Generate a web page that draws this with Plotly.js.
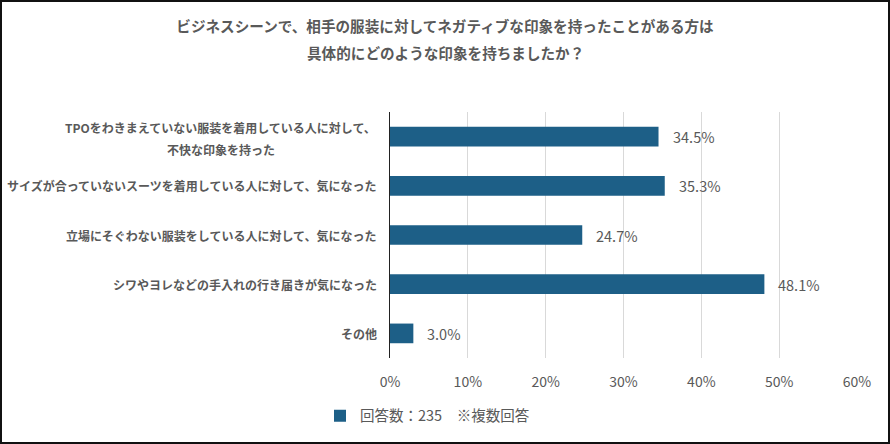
<!DOCTYPE html>
<html><head><meta charset="utf-8">
<script src="https://cdn.plot.ly/plotly-3.0.1.min.js"></script>
<style>
html,body{margin:0;padding:0;background:#fff;}
#wrap{position:relative;width:890px;height:444px;}
#chart{width:890px;height:444px;}
#frame{position:absolute;left:0;top:0;width:890px;height:444px;box-sizing:border-box;border:2px solid #111;pointer-events:none;}
</style></head>
<body><div id="wrap"><div id="chart"></div><div id="frame"></div></div>
<script>
const titleLine1 = "ビジネスシーンで、相手の服装に対してネガティブな印象を持ったことがある方は";
const titleLine2 = "具体的にどのような印象を持ちましたか？";
const categories = [
  "TPOをわきまえていない服装を着用している人に対して、<br>不快な印象を持った",
  "サイズが合っていないスーツを着用している人に対して、気になった",
  "立場にそぐわない服装をしている人に対して、気になった",
  "シワやヨレなどの手入れの行き届きが気になった",
  "その他"
];
const values = [34.5, 35.3, 24.7, 48.1, 3.0];
const seriesName = "回答数：235　※複数回答";
const tickVals = [0, 10, 20, 30, 40, 50, 60];
const tickText = ["0%", "10%", "20%", "30%", "40%", "50%", "60%"];

const FONT = '"Noto Sans CJK JP", "Noto Sans", sans-serif';
const GRAY = '#595959';
const BAR = '#1d5f87';
const LABEL_SIZE = 12;

const ctx = document.createElement('canvas').getContext('2d');
ctx.font = 'bold ' + LABEL_SIZE + 'px ' + FONT;

const trace = {
  type: 'bar', orientation: 'h',
  x: values, y: categories,
  name: seriesName,
  marker: {color: BAR},
  width: 0.4,
  hoverinfo: 'skip',
  showlegend: true
};

const annotations = [];
categories.forEach((c, i) => {
  const lines = c.split('<br>');
  const n = lines.length;
  const maxW = Math.max(...lines.map(l => ctx.measureText(l).width));
  lines.forEach((ln, k) => {
    annotations.push({
      xref: 'paper', yref: 'y', x: 0, y: c, xanchor: 'center', yanchor: 'middle',
      xshift: -13 - maxW / 2, yshift: ((n - 1) / 2 - k) * 22 - (n > 1 ? 2 : 0),
      text: ln, showarrow: false,
      font: {family: FONT, size: LABEL_SIZE, color: GRAY, weight: 'bold'}
    });
  });
  annotations.push({
    xref: 'x', yref: 'y', x: values[i], y: c, xanchor: 'left', yanchor: 'middle',
    xshift: 12, text: values[i].toFixed(1) + '%', showarrow: false,
    font: {family: FONT, size: 14.5, color: GRAY}
  });
});
annotations.push({
  xref: 'paper', yref: 'paper', x: (445 - 390) / 467, y: (362 - 52) / 250,
  xanchor: 'center', yanchor: 'middle',
  text: titleLine2, showarrow: false,
  font: {family: FONT, size: 14.6, color: GRAY, weight: 'bold'}
});

const layout = {
  width: 890, height: 444,
  margin: {l: 390, r: 33, t: 112, b: 82},
  paper_bgcolor: '#fff', plot_bgcolor: '#fff',
  title: {
    text: titleLine1, x: 0.5, xref: 'container', xanchor: 'center',
    y: 1 - 27 / 444, yref: 'container', yanchor: 'middle',
    font: {family: FONT, size: 14.6, color: GRAY, weight: 'bold'}
  },
  xaxis: {
    range: [0, 60], tickvals: tickVals, ticktext: tickText,
    showgrid: true, gridcolor: '#d9d9d9', gridwidth: 1,
    zeroline: false, showline: false, ticks: '',
    ticklabelstandoff: 14,
    tickfont: {family: FONT, size: 14, color: GRAY},
    fixedrange: true
  },
  yaxis: {
    type: 'category', categoryarray: categories, categoryorder: 'array',
    autorange: 'reversed', showticklabels: false, showgrid: false,
    showline: true, linecolor: '#222', linewidth: 1, ticks: '',
    fixedrange: true
  },
  showlegend: true,
  legend: {
    orientation: 'h', x: -70 / 467, xanchor: 'left', y: -0.17, yanchor: 'top',
    font: {family: FONT, size: 14.5, color: GRAY},
    itemwidth: 30, bgcolor: 'rgba(0,0,0,0)'
  },
  annotations: annotations,
  bargap: 0.6
};

Plotly.newPlot('chart', [trace], layout, {displayModeBar: false, staticPlot: true});
</script></body></html>
